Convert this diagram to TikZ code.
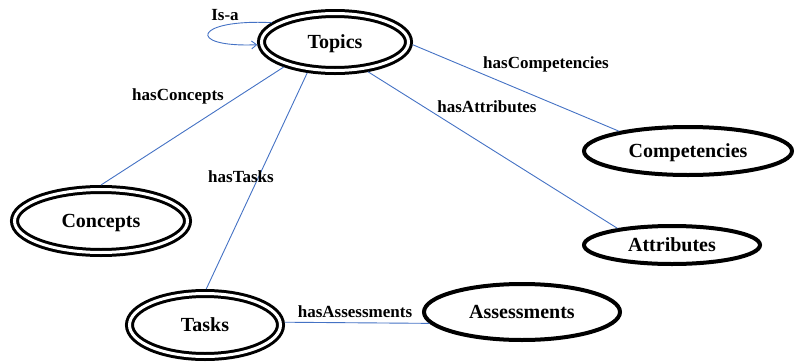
\documentclass[tikz,border=0pt]{standalone}
\usepackage{fontspec}
\setmainfont{Liberation Serif}[BoldFont={Liberation Serif Bold}]
\newfontfamily\timesbold{Liberation Serif Bold}
\usetikzlibrary{shapes.geometric,arrows.meta}

\definecolor{linkblue}{HTML}{4472C4}

\tikzset{
  concept/.style={ellipse, draw=black, inner sep=0pt, text depth=0pt,
    font=\timesbold\fontsize{20}{20}\selectfont},
  dbl/.style={concept, line width=3pt, double=white, double distance=3pt, outer sep=4.5pt},
  sgl/.style={concept, line width=4pt, outer sep=2pt},
  link/.style={draw=linkblue, line width=0.9pt},
  lbl/.style={font=\timesbold\fontsize{17}{18}\selectfont, inner sep=0pt}
}

\begin{document}
\begin{tikzpicture}[x=1pt, y=-1pt]
  \useasboundingbox (0,0) rectangle (796,362);

  % classes
  \node[dbl, minimum width=147pt, minimum height=57pt] (topics) at (335,42) {Topics};
  \node[dbl, minimum width=173pt, minimum height=63pt] (concepts) at (101,221) {Concepts};
  \node[dbl, minimum width=151pt, minimum height=63pt] (tasks) at (205,325) {Tasks};
  \node[sgl, minimum width=196pt, minimum height=56pt] (assessments) at (522,312) {Assessments};
  \node[sgl, minimum width=208pt, minimum height=48pt] (competencies) at (688,151) {Competencies};
  \node[sgl, minimum width=176pt, minimum height=38pt] (attributes) at (672,245) {Attributes};

  % relations
  \draw[link] (topics.206) -- (concepts.90);
  \draw[link] (topics.228) -- (tasks.88);
  \draw[link] (topics.358) -- (competencies.164);
  \draw[link] (topics.318) -- (attributes.163);
  \draw[link] (tasks.2) -- (assessments.187);
  \draw[link, -{Straight Barb[length=5pt, width=8pt]}]
    (topics.163) .. controls +(-78,-4) and +(-72,3) .. (topics.182);

  % relation labels
  \node[lbl] (lisa) at (225,15) {Is-a};
  \node[lbl] (lconcepts) at (178,96) {hasConcepts};
  \node[lbl] (ltasks) at (241,177) {hasTasks};
  \node[lbl] (lcompetencies) at (546,64) {hasCompetencies};
  \node[lbl] (lattributes) at (487,107) {hasAttributes};
  \node[lbl] (lassessments) at (355,312) {hasAssessments};
\end{tikzpicture}
\end{document}
